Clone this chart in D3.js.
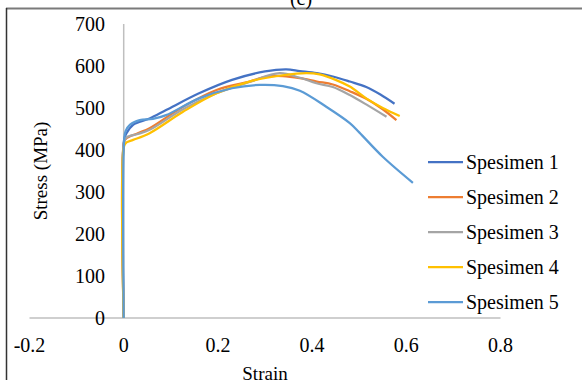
<!DOCTYPE html>
<html>
<head>
<meta charset="utf-8">
<script src="https://cdn.jsdelivr.net/npm/d3@7"></script>
<style>
  body { margin: 0; background: #fff; }
  text { font-family: "Liberation Serif", "Times New Roman", serif; fill: #000; }
</style>
</head>
<body>
<script>
// Chart data (strain, stress in MPa)
var seriesNames = ["Spesimen 1", "Spesimen 2", "Spesimen 3", "Spesimen 4", "Spesimen 5"];
var seriesColors = ["#4472C4", "#ED7D31", "#A5A5A5", "#FFC000", "#5B9BD5"];

var strain1 = [0, 0.001, 0.006, 0.02, 0.055, 0.09, 0.16, 0.23, 0.30, 0.345, 0.374, 0.41, 0.444, 0.48, 0.515, 0.545, 0.575];
var stress1 = [0, 425, 440, 460, 475, 495, 535, 567, 587, 592, 588, 583, 575, 563, 550, 532, 510];

var strain2 = [0, 0.001, 0.006, 0.03, 0.055, 0.126, 0.197, 0.267, 0.303, 0.338, 0.374, 0.41, 0.444, 0.48, 0.515, 0.55, 0.579];
var stress2 = [0, 420, 428, 440, 452, 503, 543, 563, 575, 576, 571, 563, 556, 540, 522, 497, 471];

var strain3 = [0, 0.001, 0.006, 0.03, 0.055, 0.126, 0.197, 0.267, 0.331, 0.374, 0.409, 0.444, 0.48, 0.52, 0.558];
var stress3 = [0, 420, 430, 438, 448, 497, 535, 562, 583, 572, 559, 550, 531, 505, 479];

var strain4 = [0, 0.001, 0.006, 0.02, 0.055, 0.126, 0.197, 0.267, 0.338, 0.388, 0.416, 0.45, 0.48, 0.515, 0.55, 0.586];
var stress4 = [0, 410, 418, 424, 440, 491, 535, 563, 578, 583, 580, 567, 551, 523, 500, 481];

var strain5 = [0, 0.001, 0.004, 0.013, 0.034, 0.062, 0.09, 0.16, 0.23, 0.289, 0.338, 0.374, 0.43, 0.48, 0.50, 0.55, 0.614];
var stress5 = [0, 425, 445, 460, 471, 474, 483, 523, 547, 555, 552, 541, 503, 464, 442, 384, 322];

var xTicks = [-0.2, 0, 0.2, 0.4, 0.6, 0.8];
var yTicks = [0, 100, 200, 300, 400, 500, 600, 700];

var allStrain = [strain1, strain2, strain3, strain4, strain5];
var allStress = [stress1, stress2, stress3, stress4, stress5];

var svg_Width = 582, svg_Height = 380;
var svg = d3.select("body").append("svg")
  .attr("width", svg_Width)
  .attr("height", svg_Height);

// frame of the original figure
svg.append("line").attr("x1", 6).attr("x2", 582).attr("y1", 8.5).attr("y2", 8.5)
  .attr("stroke", "#7a7a7a").attr("stroke-width", 2);
svg.append("line").attr("x1", 6.5).attr("x2", 6.5).attr("y1", 8).attr("y2", 380)
  .attr("stroke", "#333").attr("stroke-width", 1.5);

// panel title, mostly cropped in the original
svg.append("text").attr("x", 301).attr("y", 5).attr("text-anchor", "middle")
  .style("font-size", "20px").text("(c)");

var x = d3.scaleLinear().domain([-0.2, 0.8]).range([29.5, 500.5]);
var y = d3.scaleLinear().domain([0, 700]).range([318, 24]);

// axis lines (crossing at zero)
svg.append("line").attr("x1", x(-0.2)).attr("x2", x(0.8)).attr("y1", y(0)).attr("y2", y(0))
  .attr("stroke", "#bfbfbf").attr("stroke-width", 1.5);
svg.append("line").attr("x1", x(0)).attr("x2", x(0)).attr("y1", y(0)).attr("y2", y(700))
  .attr("stroke", "#bfbfbf").attr("stroke-width", 1.5);

// tick labels
svg.selectAll(".ylab").data(yTicks).enter().append("text")
  .attr("class", "ylab")
  .attr("x", 105).attr("y", d => y(d)).attr("dy", "0.35em")
  .attr("text-anchor", "end").style("font-size", "20px")
  .text(d => d);

svg.selectAll(".xlab").data(xTicks).enter().append("text")
  .attr("class", "xlab")
  .attr("x", d => x(d)).attr("y", 352)
  .attr("text-anchor", "middle").style("font-size", "20px")
  .text(d => String(d));

// axis titles
svg.append("text")
  .attr("transform", "translate(47,171) rotate(-90)")
  .attr("text-anchor", "middle").style("font-size", "19px")
  .text("Stress (MPa)");
svg.append("text").attr("x", 265).attr("y", 380)
  .attr("text-anchor", "middle").style("font-size", "19px")
  .text("Strain");

// curves
var line = d3.line()
  .x(d => x(d[0]))
  .y(d => y(d[1]))
  .curve(d3.curveCatmullRom.alpha(0.5));

allStrain.forEach(function(s, i) {
  var pts = s.map((v, j) => [v, allStress[i][j]]);
  svg.append("path")
    .datum(pts)
    .attr("d", line)
    .attr("fill", "none")
    .attr("stroke", seriesColors[i])
    .attr("stroke-width", 2.25)
    .attr("stroke-linejoin", "round");
});

// legend
var legend = svg.selectAll(".leg").data(seriesNames).enter().append("g")
  .attr("class", "leg")
  .attr("transform", (d, i) => "translate(428," + (162 + i * 35) + ")");
legend.append("line").attr("x1", 0).attr("x2", 35).attr("y1", 0).attr("y2", 0)
  .attr("stroke", (d, i) => seriesColors[i]).attr("stroke-width", 2.25);
legend.append("text").attr("x", 38).attr("y", 0).attr("dy", "0.33em")
  .style("font-size", "20px").text(d => d);
</script>
</body>
</html>
